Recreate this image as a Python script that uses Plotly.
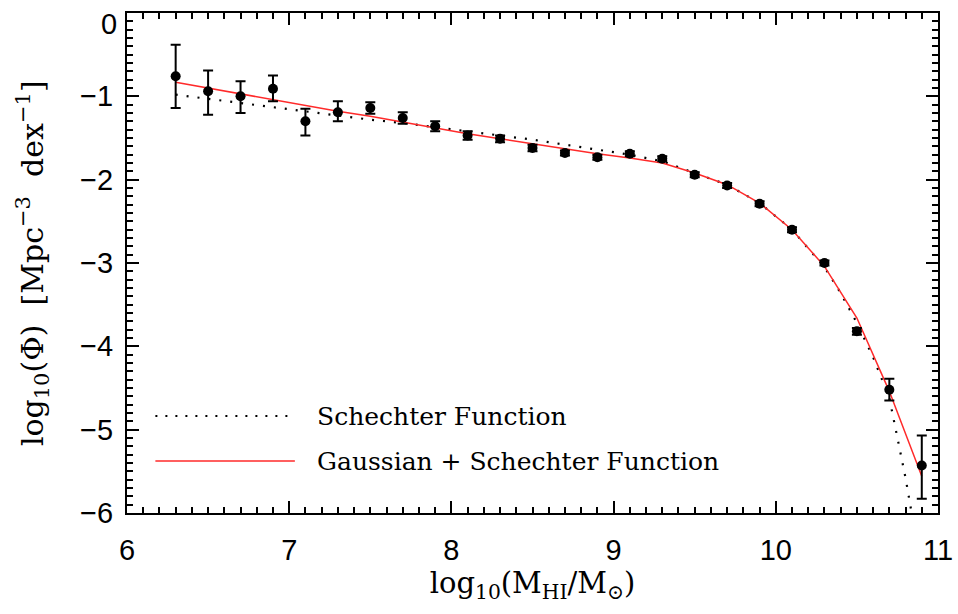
import plotly.graph_objects as go

# ---- data ----
log_mhi = [6.3, 6.5, 6.7, 6.9, 7.1, 7.3, 7.5, 7.7, 7.9, 8.1, 8.3, 8.5,
           8.7, 8.9, 9.1, 9.3, 9.5, 9.7, 9.9, 10.1, 10.3, 10.5, 10.7, 10.9]
log_phi = [-0.76, -0.94, -1.00, -0.91, -1.30, -1.19, -1.14, -1.26, -1.36, -1.47, -1.51, -1.62,
           -1.68, -1.73, -1.69, -1.75, -1.94, -2.07, -2.29, -2.60, -3.00, -3.82, -4.52, -5.43]
err_up = [0.38, 0.25, 0.18, 0.16, 0.15, 0.13, 0.07, 0.07, 0.06, 0.05, 0.04, 0.04,
          0.03, 0.03, 0.03, 0.03, 0.03, 0.03, 0.03, 0.03, 0.03, 0.04, 0.13, 0.36]
err_down = [0.38, 0.28, 0.20, 0.15, 0.17, 0.11, 0.07, 0.07, 0.06, 0.05, 0.04, 0.04,
            0.03, 0.03, 0.03, 0.03, 0.03, 0.03, 0.03, 0.03, 0.03, 0.04, 0.13, 0.40]

gauss_sch = [-0.83, -0.90, -0.97, -1.04, -1.11, -1.18, -1.24, -1.31, -1.38, -1.45, -1.51, -1.57,
             -1.63, -1.69, -1.74, -1.80, -1.92, -2.06, -2.28, -2.60, -3.04, -3.66, -4.54, -5.56]

x_sch = [6.3, 6.5, 6.7, 6.9, 7.1, 7.3, 7.5, 7.7, 7.9, 8.1, 8.3, 8.5, 8.7, 8.9,
         9.1, 9.3, 9.5, 9.7, 9.9, 10.1, 10.3, 10.4, 10.5, 10.6, 10.7, 10.8, 10.9]
sch = [-0.98, -1.03, -1.08, -1.13, -1.18, -1.23, -1.28, -1.32, -1.37, -1.42, -1.47, -1.52, -1.58, -1.64,
       -1.70, -1.78, -1.92, -2.06, -2.28, -2.60, -3.05, -3.36, -3.72, -4.13, -4.62, -5.58, -6.70]

y_tick_vals = [-6, -5, -4, -3, -2, -1, 0]
y_tick_text = ["−6", "−5", "−4", "−3", "−2", "−1", "0"]

legend_names = ["Schechter Function", "Gaussian + Schechter Function"]
x_title = "log<sub>10</sub>(M<sub>HI</sub>/M<sub>⊙</sub>)"
y_title = "log<sub>10</sub>(Φ)  [Mpc<sup>−3</sup>  dex<sup>−1</sup>]"

SERIF = "DejaVu Serif"
SANS = "Liberation Sans"

fig = go.Figure()

fig.add_trace(go.Scatter(
    x=x_sch, y=sch, mode="lines", name=legend_names[0],
    line=dict(color="black", width=2.2, dash="2px,9px"), showlegend=False))

fig.add_trace(go.Scatter(
    x=log_mhi, y=gauss_sch, mode="lines", name=legend_names[1],
    line=dict(color="#ff2a2a", width=1.5), showlegend=False))

fig.add_trace(go.Scatter(
    x=log_mhi, y=log_phi, mode="markers", name="data",
    marker=dict(color="black", size=10),
    error_y=dict(type="data", symmetric=False, array=err_up, arrayminus=err_down,
                 color="black", thickness=2, width=5),
    showlegend=False))

# manual legend (long line samples like the reference)
leg_y = [0.194, 0.104]
styles = [dict(color="black", width=2, dash="2px,8px"), dict(color="#ff2a2a", width=1.5)]
for name, yy, st in zip(legend_names, leg_y, styles):
    fig.add_shape(type="line", xref="paper", yref="paper", x0=0.035, x1=0.207, y0=yy, y1=yy, line=st)
    fig.add_annotation(xref="paper", yref="paper", x=0.232, y=yy, text=name, showarrow=False,
                       xanchor="left", yanchor="middle", font=dict(family=SERIF, size=25, color="black"))

# y-axis title placed further left, as in the reference
fig.add_annotation(xref="paper", yref="paper", x=-0.117, y=0.5, text=y_title, textangle=-90,
                   showarrow=False, xanchor="center", yanchor="middle",
                   font=dict(family=SERIF, size=30, color="black"))

# top tick label sits slightly below the frame edge in the reference
fig.add_annotation(xref="paper", yref="y", x=0, y=y_tick_vals[-1], text=y_tick_text[-1],
                   showarrow=False, xanchor="right", yanchor="middle", xshift=-8, yshift=-11,
                   font=dict(family=SANS, size=29, color="black"))

axis_common = dict(
    showgrid=False, zeroline=False, showline=True, linecolor="black", linewidth=2,
    mirror="ticks", ticks="inside", ticklen=12, tickwidth=2, tickcolor="black",
    tickfont=dict(family=SANS, size=29, color="black"),
)

fig.update_xaxes(
    range=[6, 11], dtick=1, tick0=6,
    minor=dict(ticks="inside", ticklen=6, tickwidth=1.5, tickcolor="black", dtick=0.1, showgrid=False),
    ticklabelstandoff=10,
    title=dict(text=x_title, font=dict(family=SERIF, size=29, color="black"), standoff=8),
    **axis_common)
fig.update_yaxes(
    range=[-6, 0], tickmode="array", tickvals=y_tick_vals, ticktext=y_tick_text[:-1] + [""],
    minor=dict(ticks="inside", ticklen=6, tickwidth=1.5, tickcolor="black", dtick=0.1, showgrid=False),
    ticklabelstandoff=6,
    **axis_common)

fig.update_layout(
    width=958, height=614,
    margin=dict(l=127, r=20, t=13, b=101, autoexpand=False),
    paper_bgcolor="white", plot_bgcolor="white",
    showlegend=False,
)

fig.write_html("out.html")
